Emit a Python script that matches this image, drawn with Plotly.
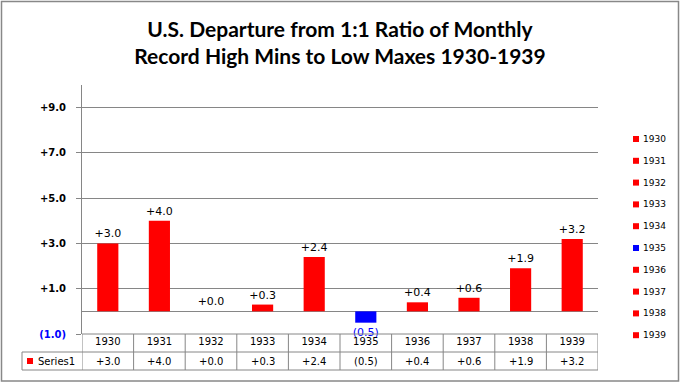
import plotly.graph_objects as go

years = ["1930", "1931", "1932", "1933", "1934", "1935", "1936", "1937", "1938", "1939"]
values = [3.0, 4.0, 0.0, 0.3, 2.4, -0.5, 0.4, 0.6, 1.9, 3.2]
series_name = "Series1"
y_tick_vals = [-1, 1, 3, 5, 7, 9]

POS = "#FF0000"
NEG = "#0000FF"
GRID = "#868686"
FONT = "DejaVu Sans"

W, H = 680, 383
ML, MR, MT, MB = 82, 82, 85, 49
PW, PH = W - ML - MR, H - MT - MB


def fmt(v):
    return f"({abs(v):.1f})" if v < 0 else f"+{v:.1f}"


def px_x(px):
    return (px - ML) / PW


def px_y(py):
    return (H - MB - py) / PH


fig = go.Figure()
for yr, v in zip(years, values):
    col = NEG if v < 0 else POS
    fig.add_trace(go.Bar(
        x=[yr], y=[v], name=yr,
        marker=dict(color=col, line=dict(width=0)),
        width=0.41,
        text=[fmt(v)], textposition="outside", cliponaxis=False, constraintext="none",
        textfont=dict(family=FONT, size=11, color=col if v < 0 else "#000000"),
        showlegend=False,
    ))

tick_text = []
for t in y_tick_vals:
    if t < 0:
        tick_text.append(f"<span style='color:#0000FF'>{fmt(t)}</span>")
    else:
        tick_text.append(fmt(t))

shapes = []
annotations = []
tbl_top, row_mid, tbl_bot = 334, 352, 370
left_px = 22
# horizontal table lines
shapes.append(dict(type="line", xref="paper", yref="paper", x0=px_x(ML), x1=px_x(W - MR),
                   y0=px_y(tbl_top), y1=px_y(tbl_top), line=dict(color=GRID, width=1)))
for py in (row_mid, tbl_bot):
    shapes.append(dict(type="line", xref="paper", yref="paper", x0=px_x(left_px), x1=px_x(W - MR),
                       y0=px_y(py), y1=px_y(py), line=dict(color=GRID, width=1)))
shapes.append(dict(type="line", xref="paper", yref="paper", x0=px_x(left_px), x1=px_x(left_px),
                   y0=px_y(row_mid), y1=px_y(tbl_bot), line=dict(color=GRID, width=1)))
for i in range(len(years) + 1):
    shapes.append(dict(type="line", xref="x", yref="paper", x0=i - 0.5, x1=i - 0.5,
                       y0=px_y(tbl_top), y1=px_y(tbl_bot), line=dict(color=GRID, width=1)))
# Series label
shapes.append(dict(type="rect", xref="paper", yref="paper", x0=px_x(27), x1=px_x(33),
                   y0=px_y(364), y1=px_y(358), fillcolor=POS, line=dict(width=0)))
annotations.append(dict(text=series_name, xref="paper", yref="paper", x=px_x(36), y=px_y(361),
                        xanchor="left", yanchor="middle", showarrow=False,
                        font=dict(family=FONT, size=10, color="#000")))
for i, v in enumerate(values):
    annotations.append(dict(text=fmt(v), xref="x", yref="paper", x=i, y=px_y(361),
                            xanchor="center", yanchor="middle", showarrow=False,
                            font=dict(family=FONT, size=10, color="#000")))

# manual legend (one entry per year)
leg_y0, leg_step = 139, 21.8
for i, (yr, v) in enumerate(zip(years, values)):
    cy = leg_y0 + i * leg_step
    col = NEG if v < 0 else POS
    shapes.append(dict(type="rect", xref="paper", yref="paper", x0=px_x(633), x1=px_x(639),
                       y0=px_y(cy + 3), y1=px_y(cy - 3), fillcolor=col, line=dict(width=0)))
    annotations.append(dict(text=yr, xref="paper", yref="paper", x=px_x(641), y=px_y(cy),
                            xanchor="left", yanchor="middle", showarrow=False,
                            font=dict(family=FONT, size=9, color="#000")))

# outer border
shapes.append(dict(type="rect", xref="paper", yref="paper", x0=px_x(1.5), x1=px_x(678.5),
                   y0=px_y(381), y1=px_y(1.5), line=dict(color="#888888", width=1.5)))

fig.update_layout(
    width=W, height=H,
    margin=dict(l=ML, r=MR, t=MT, b=MB, autoexpand=False),
    paper_bgcolor="white", plot_bgcolor="white",
    barmode="overlay",
    title=dict(text="U.S. Departure from 1:1 Ratio of Monthly<br>Record High Mins to Low Maxes 1930-1939",
               x=0.5, xref="paper", xanchor="center", y=0.903, yanchor="middle",
               font=dict(family="Lato", size=21, color="#000", weight="bold")),
    xaxis=dict(type="category", showgrid=False, showline=False, zeroline=False, ticks="",
               automargin=False,
               tickfont=dict(family=FONT, size=10, color="#000"), range=[-0.5, 9.5]),
    yaxis=dict(range=[-1, 10], tickvals=y_tick_vals, ticktext=tick_text, showgrid=True,
               automargin=False,
               gridcolor=GRID, gridwidth=1, zeroline=True, zerolinecolor=GRID, zerolinewidth=1,
               showline=True, linecolor=GRID, linewidth=1, ticks="outside", ticklen=5,
               tickcolor=GRID, ticklabelstandoff=8,
               tickfont=dict(family=FONT, size=10, color="#000", weight="bold")),
    showlegend=False,
    shapes=shapes, annotations=annotations,
)

fig.write_html("out.html", config={"displayModeBar": False},
               post_script="document.body.style.margin='0px';")
